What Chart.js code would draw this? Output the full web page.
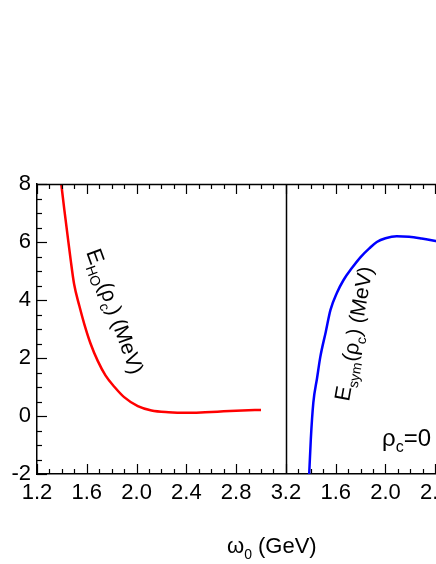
<!DOCTYPE html>
<html><head><meta charset="utf-8">
<script src="https://cdn.jsdelivr.net/npm/chart.js@4"></script>
<style>html,body{margin:0;padding:0;background:#fff;overflow:hidden}#w{width:500px;height:564px}</style>
</head><body><div id="w"><canvas id="c"></canvas></div>
<script>
// x values on the combined axis: right panel x_shown = x - 2.0
const hoX = [1.395,1.42,1.444,1.47,1.498,1.54,1.58,1.63,1.688,1.75,1.823,1.9,2.01,2.12,2.257,2.4,2.55,2.7,2.85,3.0];
const hoY = [8.0,7.1,6.28,5.4,4.55,3.8,3.17,2.5,1.9,1.4,1.0,0.65,0.34,0.19,0.13,0.11,0.13,0.16,0.19,0.21];
const symX = [3.387,3.40,3.42,3.45,3.476,3.52,3.558,3.61,3.663,3.73,3.80,3.87,3.93,4.0,4.09,4.19,4.29,4.37,4.44,4.6];
const symY = [-2.0,-0.8,0.45,1.3,2.03,2.9,3.66,4.25,4.69,5.1,5.48,5.78,6.0,6.13,6.2,6.18,6.12,6.06,6.0,5.85];
const yTicks = [-2,0,2,4,6,8];
const xTicks = [1.2,1.6,2.0,2.4,2.8,3.2,3.6,4.0,4.4];
const F = '"Liberation Sans", Arial, sans-serif';
const pts = (xs, ys) => xs.map((x, i) => ({x, y: ys[i]}));
const deco = {
  id: 'deco',
  afterDraw(ch) {
    const {ctx, chartArea: a, scales: {x, y}} = ch;
    ctx.save();
    ctx.strokeStyle = '#000'; ctx.lineWidth = 1.2;
    for (let i = 0; i <= 40; i++) {
      const v = 1.2 + i * 0.1; const px = Math.round(x.getPixelForValue(v)) + 0.5;
      if (px > a.right + 1) break;
      const L = (i % 4 === 0) ? 10 : 5;
      ctx.beginPath(); ctx.moveTo(px, a.bottom); ctx.lineTo(px, a.bottom - L);
      ctx.moveTo(px, a.top); ctx.lineTo(px, a.top + L); ctx.stroke();
    }
    for (let i = 0; i <= 20; i++) {
      const v = -2 + i * 0.5; const py = Math.round(y.getPixelForValue(v)) + 0.5;
      const L = (i % 4 === 0) ? 10 : 5;
      ctx.beginPath(); ctx.moveTo(a.left, py); ctx.lineTo(a.left + L, py); ctx.stroke();
    }
    const sx = Math.round(x.getPixelForValue(3.2)) + 0.5;
    ctx.lineWidth = 1.5;
    ctx.beginPath(); ctx.moveTo(sx, a.top); ctx.lineTo(sx, a.bottom); ctx.stroke();
    ctx.beginPath(); ctx.moveTo(a.left, a.top + 0.5); ctx.lineTo(a.right, a.top + 0.5); ctx.stroke();
    ctx.fillStyle = '#000';
    ctx.textBaseline = 'alphabetic';
    ctx.font = '22px ' + F; ctx.textAlign = 'left';
    let tx = 227, ty = 553;
    ctx.fillText('ω', tx, ty); tx += ctx.measureText('ω').width;
    ctx.font = '14px ' + F; ctx.fillText('0', tx, ty + 6); tx += ctx.measureText('0').width + 6;
    ctx.font = '22px ' + F; ctx.fillText('(GeV)', tx, ty);
    function rich(parts, ox, oy, ang) {
      ctx.save(); ctx.translate(ox, oy); ctx.rotate(ang);
      let cx = 0;
      for (const [t, sz, dy] of parts) { ctx.font = sz + 'px ' + F; ctx.fillText(t, cx, dy); cx += ctx.measureText(t).width; }
      ctx.restore();
    }
    rich([['E',22,0],['HO',14,6],['(ρ',21,0],['c',14,6],[') (MeV)',21,0]], 86, 252, 70 * Math.PI / 180);
    rich([['E',22,0],['sym',14,6],['(ρ',21,0],['c',14,6],[') (MeV)',21,0]], 349, 402, -80 * Math.PI / 180);
    rich([['ρ',24,0],['c',16,6],['=0',24,0]], 382, 446, 0);
    ctx.restore();
  }
};
new Chart(document.getElementById('c'), {
  type: 'scatter',
  data: { datasets: [
    { data: pts(hoX, hoY), showLine: true, borderColor: '#ff0000', borderWidth: 2.5, pointRadius: 0, cubicInterpolationMode: 'monotone' },
    { data: pts(symX, symY), showLine: true, borderColor: '#0000ff', borderWidth: 2.5, pointRadius: 0, cubicInterpolationMode: 'monotone' }
  ]},
  options: {
    responsive: true, maintainAspectRatio: false, animation: false,
    layout: { padding: { top: 184, right: 0, left: 0, bottom: 0 } },
    plugins: { legend: { display: false }, tooltip: { enabled: false } },
    scales: {
      x: { type: 'linear', min: 1.2, max: 4.92,
        afterFit: s => { s.height = 90; },
        afterBuildTicks: s => { s.ticks = xTicks.map(v => ({value: v})); },
        grid: { display: false, drawTicks: false }, border: { color: '#000', width: 1.5 },
        ticks: { padding: 6, maxRotation: 0, autoSkip: false, color: '#000', font: { size: 22, family: F },
          callback: v => (v > 3.21 ? v - 2 : v).toFixed(1) } },
      y: { min: -2, max: 8,
        afterFit: s => { s.width = 37; },
        afterBuildTicks: s => { s.ticks = yTicks.map(v => ({value: v})); },
        grid: { display: false, drawTicks: false }, border: { color: '#000', width: 1.5 },
        ticks: { padding: 6, color: '#000', font: { size: 22, family: F } } }
    }
  },
  plugins: [deco]
});
</script></body></html>
